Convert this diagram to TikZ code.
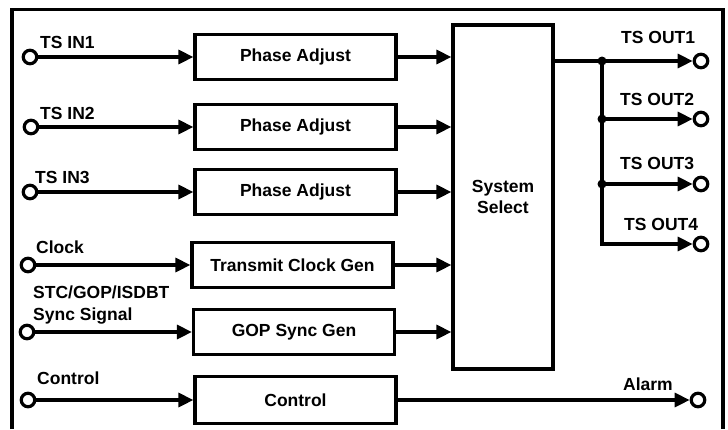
\documentclass[tikz,border=0pt]{standalone}
\usepackage{fontspec}
\setmainfont{Liberation Sans}
\usetikzlibrary{arrows.meta}

\tikzset{
  blk/.style={draw, line width=3.2pt, minimum width=201pt, minimum height=45pt, inner sep=0pt, font=\bfseries\fontsize{17.5}{21}\selectfont},
  port/.style={draw, circle, line width=3.2pt, minimum size=13.5pt, inner sep=0pt},
  wire/.style={line width=3.2pt},
  sig/.style={wire, -{Triangle[length=15pt,width=14pt]}},
  lbl/.style={anchor=base west, inner sep=0pt, font=\bfseries\fontsize{17.5}{21}\selectfont}
}

\begin{document}
\begin{tikzpicture}[x=1pt, y=-1pt]
\useasboundingbox (0,0) rectangle (728,429);

% outer frame (open at the bottom)
\draw[wire] (12,429) |- (723,9.5) -- (723,429);

% input ports
\node[port] (in1) at (30,57) {};
\node[port] (in2) at (31,127) {};
\node[port] (in3) at (30,192) {};
\node[port] (clk) at (28,265) {};
\node[port] (sync) at (27,332) {};
\node[port] (ctlin) at (28,400) {};

\node[lbl] (lin1) at (40,48) {TS IN1};
\node[lbl] (lin2) at (40,119) {TS IN2};
\node[lbl] (lin3) at (35,183) {TS IN3};
\node[lbl] (lclk) at (36,253) {Clock};
\node[lbl] (lsynca) at (33,298) {STC/GOP/ISDBT};
\node[lbl] (lsyncb) at (33,320) {Sync Signal};
\node[lbl] (lctl) at (37,384) {Control};

% processing blocks
\node[blk] (pa1) at (295.5,57) {Phase Adjust};
\node[blk] (pa2) at (295.5,127) {Phase Adjust};
\node[blk] (pa3) at (295.5,192) {Phase Adjust};
\node[blk] (tcg) at (292.5,265) {Transmit Clock Gen};
\node[blk] (gop) at (294,332) {GOP Sync Gen};
\node[blk, minimum height=47pt] (ctl) at (295.5,400) {Control};
\node[blk, minimum width=100pt, minimum height=344pt, align=center] (ss) at (503,197) {System\\Select};

% inputs into blocks
\draw[sig] (in1) -- (pa1);
\draw[sig] (in2) -- (pa2);
\draw[sig] (in3) -- (pa3);
\draw[sig] (clk) -- (tcg);
\draw[sig] (sync) -- (gop);
\draw[sig] (ctlin) -- (ctl);

% blocks into system select
\draw[sig] (pa1.east) -- (pa1.east -| ss.west);
\draw[sig] (pa2.east) -- (pa2.east -| ss.west);
\draw[sig] (pa3.east) -- (pa3.east -| ss.west);
\draw[sig] (tcg.east) -- (tcg.east -| ss.west);
\draw[sig] (gop.east) -- (gop.east -| ss.west);

% outputs
\node[port] (out1) at (701,61) {};
\node[port] (out2) at (701,119) {};
\node[port] (out3) at (701,184) {};
\node[port] (out4) at (701,244) {};
\node[port] (alarm) at (698,400) {};

\coordinate (j1) at (602,61);
\coordinate (j2) at (602,119);
\coordinate (j3) at (602,184);
\coordinate (j4) at (602,244);

\draw[wire] (ss.east |- j1) -- (j1);
\draw[sig] (j1) -- (out1);
\draw[sig] (j2) -- (out2);
\draw[sig] (j3) -- (out3);
\draw[sig] (j1) -- (j4) -- (out4);
\foreach \j in {j1,j2,j3} \fill (\j) circle (4.5pt);

\draw[sig] (ctl) -- (alarm);

\node[lbl] (lout1) at (621,43) {TS OUT1};
\node[lbl] (lout2) at (620,105) {TS OUT2};
\node[lbl] (lout3) at (620,169) {TS OUT3};
\node[lbl] (lout4) at (624,230) {TS OUT4};
\node[lbl] (lalarm) at (623,390) {Alarm};
\end{tikzpicture}
\end{document}
